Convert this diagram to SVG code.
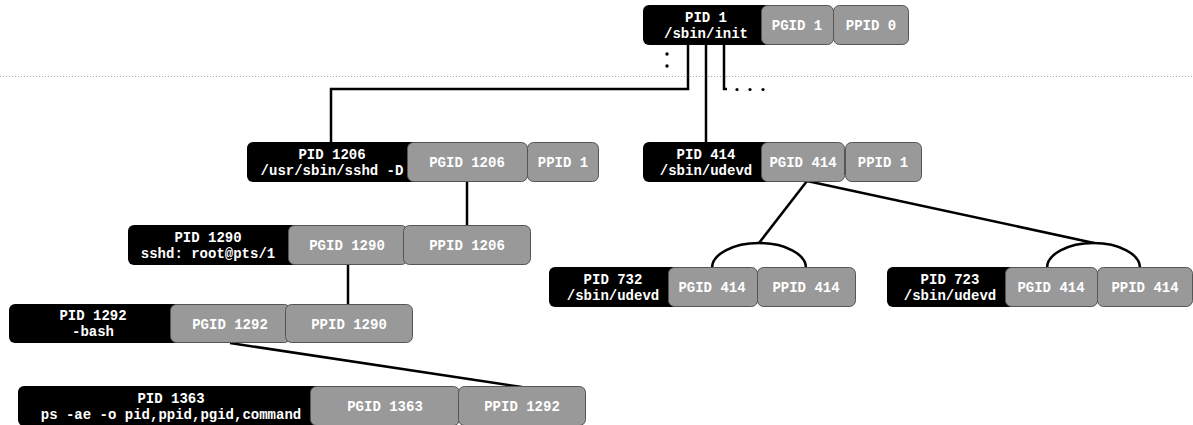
<svg xmlns="http://www.w3.org/2000/svg" width="1193" height="425" viewBox="0 0 1193 425">
<style>
.blk{fill:#000;}
.gry{fill:#999;stroke:#555;stroke-width:1;}
text{font-family:"Liberation Mono","Courier New",monospace;font-weight:bold;font-size:14px;fill:#fff;text-anchor:middle;}
.ln{fill:none;stroke:#000;stroke-width:2.5;}
.dot{fill:#000;}
</style>
<rect width="1193" height="425" fill="#fff"/>
<line x1="0" y1="76.5" x2="1193" y2="76.5" stroke="#aaa" stroke-width="1" stroke-dasharray="1,2"/>
<g id="connectors">
<polyline class="ln" points="688,44 688,89 331,89 331,142"/>
<line class="ln" x1="706" y1="44" x2="706" y2="142"/>
<polyline class="ln" points="724,44 724,89 727,89"/>
<line class="ln" x1="467" y1="181" x2="467" y2="225"/>
<line class="ln" x1="348" y1="265" x2="348" y2="304"/>
<line class="ln" x1="230" y1="343" x2="522" y2="387"/>
<line class="ln" x1="807" y1="181" x2="759" y2="243"/>
<path class="ln" d="M712,268 A47,25 0 0 1 806,268"/>
<line class="ln" x1="807" y1="181" x2="1094" y2="243"/>
<path class="ln" d="M1047,268 A46.5,25 0 0 1 1140,268"/>
<circle class="dot" cx="667" cy="54" r="1.7"/>
<circle class="dot" cx="667" cy="66" r="1.7"/>
<circle class="dot" cx="737" cy="89.5" r="1.6"/>
<circle class="dot" cx="750" cy="89.5" r="1.6"/>
<circle class="dot" cx="763" cy="89.5" r="1.6"/>
</g>
<g id="node-pid1">
<rect class="blk" x="643" y="5" width="140" height="40" rx="6"/>
<rect class="gry" x="761.5" y="5.5" width="72" height="39" rx="6"/>
<rect class="gry" x="833.5" y="5.5" width="75" height="39" rx="6"/>
<text x="706" y="22">PID 1</text>
<text x="706" y="38">/sbin/init</text>
<text x="797" y="30">PGID 1</text>
<text x="871" y="30">PPID 0</text>
</g>
<g id="node-pid1206">
<rect class="blk" x="247" y="142" width="180" height="40" rx="6"/>
<rect class="gry" x="407.5" y="142.5" width="120" height="39" rx="6"/>
<rect class="gry" x="527.5" y="142.5" width="71" height="39" rx="6"/>
<text x="332" y="159">PID 1206</text>
<text x="332" y="175">/usr/sbin/sshd -D</text>
<text x="467" y="167">PGID 1206</text>
<text x="563" y="167">PPID 1</text>
</g>
<g id="node-pid414">
<rect class="blk" x="643" y="142" width="140" height="40" rx="6"/>
<rect class="gry" x="761.5" y="142.5" width="83" height="39" rx="6"/>
<rect class="gry" x="845.5" y="142.5" width="76" height="39" rx="6"/>
<text x="706" y="159">PID 414</text>
<text x="706" y="175">/sbin/udevd</text>
<text x="803" y="167">PGID 414</text>
<text x="883" y="167">PPID 1</text>
</g>
<g id="node-pid1290">
<rect class="blk" x="128" y="225" width="180" height="40" rx="6"/>
<rect class="gry" x="288.5" y="225.5" width="119" height="39" rx="6"/>
<rect class="gry" x="403.5" y="225.5" width="127" height="39" rx="6"/>
<text x="208" y="242">PID 1290</text>
<text x="208" y="258">sshd: root@pts/1</text>
<text x="347" y="250">PGID 1290</text>
<text x="467" y="250">PPID 1206</text>
</g>
<g id="node-pid732">
<rect class="blk" x="549" y="267" width="140" height="40" rx="6"/>
<rect class="gry" x="668.5" y="267.5" width="89" height="39" rx="6"/>
<rect class="gry" x="757.5" y="267.5" width="98" height="39" rx="6"/>
<text x="613" y="284">PID 732</text>
<text x="613" y="300">/sbin/udevd</text>
<text x="712" y="292">PGID 414</text>
<text x="806" y="292">PPID 414</text>
</g>
<g id="node-pid723">
<rect class="blk" x="887" y="267" width="140" height="40" rx="6"/>
<rect class="gry" x="1005.5" y="267.5" width="92" height="39" rx="6"/>
<rect class="gry" x="1097.5" y="267.5" width="95" height="39" rx="6"/>
<text x="950" y="284">PID 723</text>
<text x="950" y="300">/sbin/udevd</text>
<text x="1051" y="292">PGID 414</text>
<text x="1145" y="292">PPID 414</text>
</g>
<g id="node-pid1292">
<rect class="blk" x="9" y="304" width="180" height="39" rx="6"/>
<rect class="gry" x="170.5" y="304.5" width="120" height="38" rx="6"/>
<rect class="gry" x="285.5" y="304.5" width="127" height="38" rx="6"/>
<text x="93" y="320">PID 1292</text>
<text x="93" y="336">-bash</text>
<text x="230" y="329">PGID 1292</text>
<text x="349" y="329">PPID 1290</text>
</g>
<g id="node-pid1363">
<rect class="blk" x="18" y="386" width="310" height="40" rx="6"/>
<rect class="gry" x="310.5" y="386.5" width="149" height="39" rx="6"/>
<rect class="gry" x="458.5" y="386.5" width="127" height="39" rx="6"/>
<text x="171" y="403">PID 1363</text>
<text x="171" y="419">ps -ae -o pid,ppid,pgid,command</text>
<text x="385" y="411">PGID 1363</text>
<text x="522" y="411">PPID 1292</text>
</g>
</svg>
